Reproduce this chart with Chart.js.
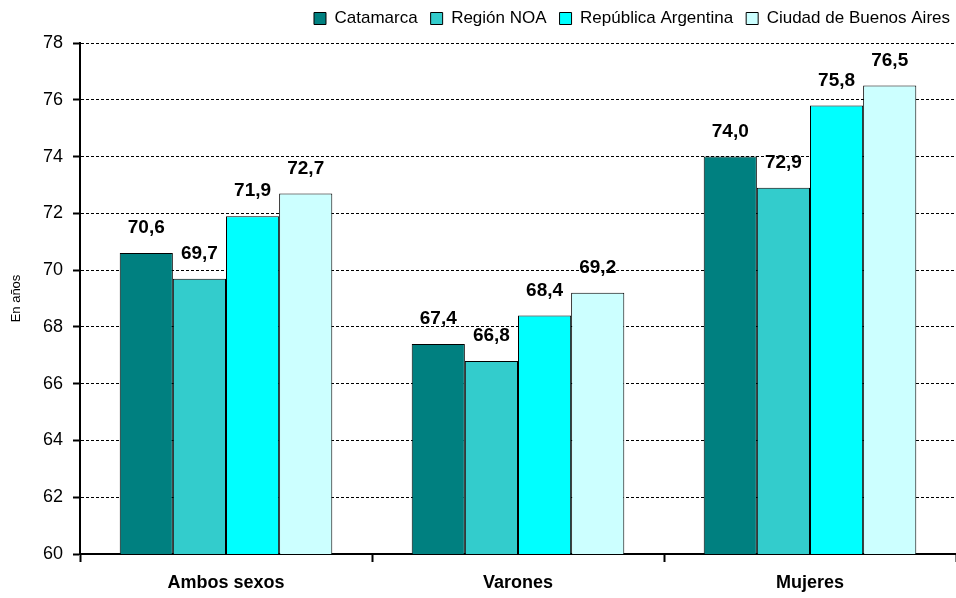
<!DOCTYPE html>
<html lang="es">
<head>
<meta charset="UTF-8">
<title>Esperanza de vida</title>
<script src="https://cdn.jsdelivr.net/npm/chart.js@4.4.0/dist/chart.umd.min.js"></script>
<style>
  body { margin: 0; background: #fff; }
</style>
</head>
<body>
<canvas id="chart" width="956" height="598"></canvas>
<script>
  // categories and series
  const categories = ['Ambos sexos', 'Varones', 'Mujeres'];
  const seriesNames = ['Catamarca', 'Región NOA', 'República Argentina', 'Ciudad de Buenos Aires'];
  const catamarca = [70.6, 67.4, 74.0];
  const regionNOA = [69.7, 66.8, 72.9];
  const republica = [71.9, 68.4, 75.8];
  const ciudadBA = [72.7, 69.2, 76.5];
  const colors = ['#008080', '#33CCCC', '#00FFFF', '#CCFFFF'];

  const font = "'Liberation Sans', Arial, sans-serif";

  const seriesValues = [catamarca, regionNOA, republica, ciudadBA];
  const datasets = seriesNames.map((name, i) => ({
    label: name,
    data: seriesValues[i],
    backgroundColor: colors[i],
    borderColor: '#000',
    borderWidth: 1,
    borderSkipped: false,
    barPercentage: 1,
    categoryPercentage: 0.728
  }));

  // value labels above bars, decimal comma
  const valueLabels = {
    id: 'valueLabels',
    afterDatasetsDraw(chart) {
      const ctx = chart.ctx;
      ctx.save();
      ctx.font = 'bold 19px ' + font;
      ctx.fillStyle = '#000';
      ctx.textAlign = 'center';
      ctx.textBaseline = 'middle';
      chart.data.datasets.forEach((ds, i) => {
        chart.getDatasetMeta(i).data.forEach((bar, j) => {
          ctx.fillText(ds.data[j].toFixed(1).replace('.', ','), bar.x, bar.y - 25);
        });
      });
      ctx.restore();
    }
  };

  // nudge the legend up and right a bit, like the original
  const legendShift = {
    id: 'legendShift',
    afterLayout(chart) {
      if (chart.legend) {
        chart.legend.top -= 6;
        chart.legend.bottom -= 6;
        chart.legend.left += 7;
        chart.legend.right += 7;
      }
    }
  };

  new Chart(document.getElementById('chart'), {
    type: 'bar',
    data: { labels: categories, datasets: datasets },
    plugins: [valueLabels, legendShift],
    options: {
      responsive: false,
      animation: false,
      devicePixelRatio: 1,
      layout: { padding: { left: 0, right: 0, top: 3, bottom: 0 } },
      plugins: {
        legend: {
          position: 'top',
          align: 'end',
          labels: {
            boxWidth: 12,
            boxHeight: 12,
            padding: 13,
            color: '#000',
            font: { family: font, size: 17 }
          }
        },
        tooltip: { enabled: false }
      },
      scales: {
        x: {
          afterFit(scale) { scale.height = 44; },
          grid: {
            drawOnChartArea: false,
            drawTicks: true,
            tickLength: 8,
            tickWidth: 2,
            tickColor: '#000',
            offset: true
          },
          border: { color: '#000', width: 2 },
          ticks: {
            color: '#000',
            padding: 10,
            font: { family: font, size: 18, weight: 'bold' }
          }
        },
        y: {
          min: 60,
          max: 78,
          afterFit(scale) { scale.width = 80; },
          ticks: {
            stepSize: 2,
            color: '#000',
            padding: 10,
            font: { family: font, size: 18 }
          },
          grid: {
            color: '#000',
            lineWidth: 1,
            tickLength: 7,
            tickWidth: 2,
            tickColor: '#000',
            tickBorderDash: []
          },
          border: { color: '#000', width: 2, dash: [3, 2] },
          title: {
            display: true,
            text: 'En años',
            color: '#000',
            padding: { top: 9, bottom: 0 },
            font: { family: font, size: 13 }
          }
        }
      }
    }
  });
</script>
</body>
</html>
